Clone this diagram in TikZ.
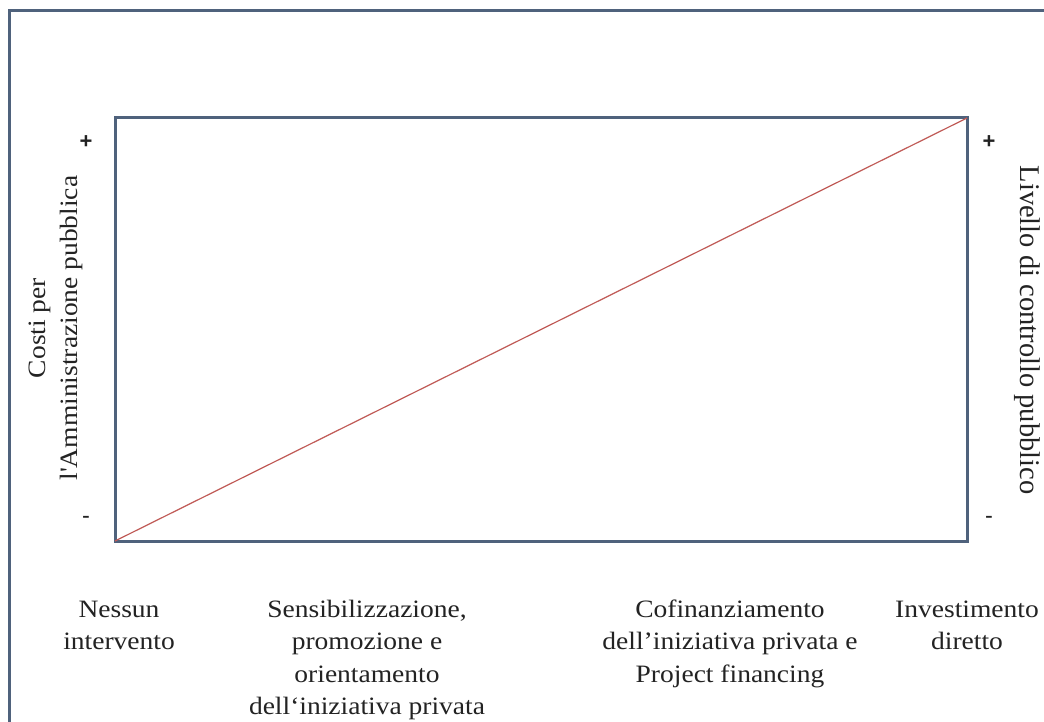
\documentclass[tikz,border=0pt]{standalone}
\usepackage{fontspec}
\setmainfont{Liberation Serif}
\newfontfamily\widefont[FakeStretch=1.1]{Liberation Serif}
\newfontfamily\signfont{Liberation Sans}
\definecolor{frame}{RGB}{79,98,124}
\definecolor{diag}{RGB}{192,90,86}
\definecolor{ink}{RGB}{35,35,35}
\tikzset{
  lbl/.style={inner sep=0pt, align=center, text=ink, font=\widefont\fontsize{25}{32.5}\selectfont, anchor=base},
  sign/.style={inner sep=0pt, text=ink, font=\signfont\bfseries\fontsize{22}{26}\selectfont},
  minus/.style={inner sep=0pt, text=ink, font=\bfseries\fontsize{22}{26}\selectfont},
}
\begin{document}
\begin{tikzpicture}[x=1pt,y=-1pt]
\useasboundingbox (0,0) rectangle (1044,722);
\fill[white] (0,0) rectangle (1044,722);
\begin{scope}
\clip (0,0) rectangle (1044,722);
\draw[frame, line width=3pt] (9,740) -- (9,11) -- (1060,11);
\end{scope}
\coordinate (bl) at (115,541);
\coordinate (tr) at (967,118);
\draw[frame, line width=3pt] (bl) rectangle (tr);
\draw[diag, line width=1.2pt] (bl) -- (tr);
\node[sign] (pl) at (86,142) {+};
\node[minus] (ml) at (86,519) {-};
\node[sign] (pr) at (989,142) {+};
\node[minus] (mr) at (989,519) {-};
\node[lbl, anchor=center, rotate=90] (yl) at (56,328) {Costi per\\l\textquotesingle Amministrazione pubblica};
\node[lbl, anchor=center, rotate=-90, font=\fontsize{28.5}{32}\selectfont] (yr) at (1027,330) {Livello di controllo pubblico};
\node[lbl] (a) at (119,649.5) {Nessun\\intervento};
\node[lbl] (b) at (367,714.5) {Sensibilizzazione,\\promozione e\\orientamento\\dell‘iniziativa privata};
\node[lbl] (c) at (730,682) {Cofinanziamento\\dell’iniziativa privata e\\Project financing};
\node[lbl] (d) at (967,649.5) {Investimento\\diretto};
\end{tikzpicture}
\end{document}
